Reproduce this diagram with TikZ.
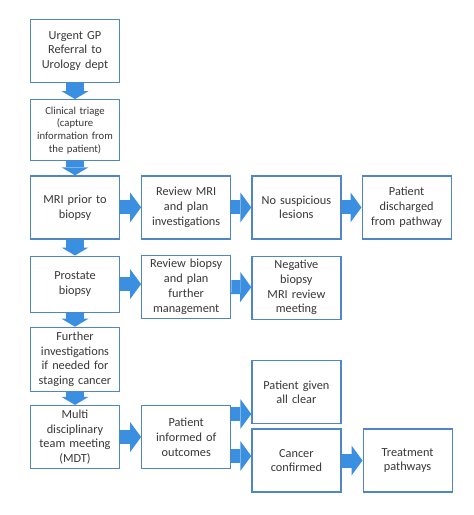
\documentclass[tikz,border=0pt]{standalone}
\usepackage{fontspec}
\setmainfont{Carlito}
\usetikzlibrary{arrows.meta, positioning}

\definecolor{boxblue}{RGB}{79,134,200}
\definecolor{arrowblue}{RGB}{58,143,225}
\definecolor{textgrey}{RGB}{55,55,55}

\begin{document}
\begin{tikzpicture}[
    x=1pt, y=1pt,
    box/.style={rectangle, draw=boxblue, line width=1.2pt, text=textgrey, minimum width=89pt, minimum height=63pt, text width=87pt, align=center, inner sep=1pt, font=\fontsize{12.3}{14.8}\selectfont},
    downarrow/.style={draw=arrowblue, line width=18pt, -{Triangle[width=27pt, length=8pt, line width=0pt]}},
    rightarrow/.style={draw=arrowblue, line width=14pt, -{Triangle[width=30pt, length=11pt, line width=0pt]}}
]
\useasboundingbox (0,0) rectangle (474,-515);

% main column
\node[box] (gp) at (75,-51) {Urgent GP\\Referral to\\Urology dept};
\node[box, below=16pt of gp, minimum height=61pt, font=\fontsize{10.7}{12.7}\selectfont] (triage) {Clinical triage\\(capture\\information from\\the patient)};
\node[box, below=14pt of triage] (mri) {MRI prior to\\biopsy};
\node[box, below=16pt of mri, minimum height=56pt] (biopsy) {Prostate\\biopsy};
\node[box, below=14pt of biopsy, minimum height=64pt] (further) {Further\\investigations\\if needed for\\staging cancer};
\node[box, below=13pt of further] (mdt) {Multi\\disciplinary\\team meeting\\(MDT)};

% MRI row
\node[box, right=21pt of mri] (revmri) {Review MRI\\and plan\\investigations};
\node[box, right=20pt of revmri] (nolesion) {No suspicious\\lesions};
\node[box, right=20pt of nolesion] (discharge) {Patient\\discharged\\from pathway};

% biopsy row
\node[box, below=15pt of revmri] (revbiopsy) {Review biopsy\\and plan\\further\\management};
\node[box, below=16pt of nolesion] (negative) {Negative\\biopsy\\MRI review\\meeting};

% MDT row
\node[box, right=21pt of mdt] (informed) {Patient\\informed of\\outcomes};
\node[box, right=20pt of informed, yshift=-23.5pt] (cancer) {Cancer\\confirmed};
\node[box, above=4pt of cancer] (clear) {Patient given\\all clear};
\node[box, right=21pt of cancer] (treatment) {Treatment\\pathways};

% arrows
\draw[downarrow] (gp) -- (triage);
\draw[downarrow] (triage) -- (mri);
\draw[downarrow] (mri) -- (biopsy);
\draw[downarrow] (biopsy) -- (further);
\draw[downarrow] (further) -- (mdt);

\draw[rightarrow] (mri) -- (revmri);
\draw[rightarrow] (revmri) -- (nolesion);
\draw[rightarrow] (nolesion) -- (discharge);
\draw[rightarrow] (biopsy) -- (biopsy -| revbiopsy.west);
\draw[rightarrow] (revbiopsy) -- (negative);
\draw[rightarrow] (mdt) -- (informed);
\draw[rightarrow] ([yshift=23pt]informed.east) -- ([yshift=23pt]informed.east -| clear.west);
\draw[rightarrow] ([yshift=-19pt]informed.east) -- ([yshift=-19pt]informed.east -| cancer.west);
\draw[rightarrow] (cancer) -- (treatment);

\end{tikzpicture}
\end{document}
